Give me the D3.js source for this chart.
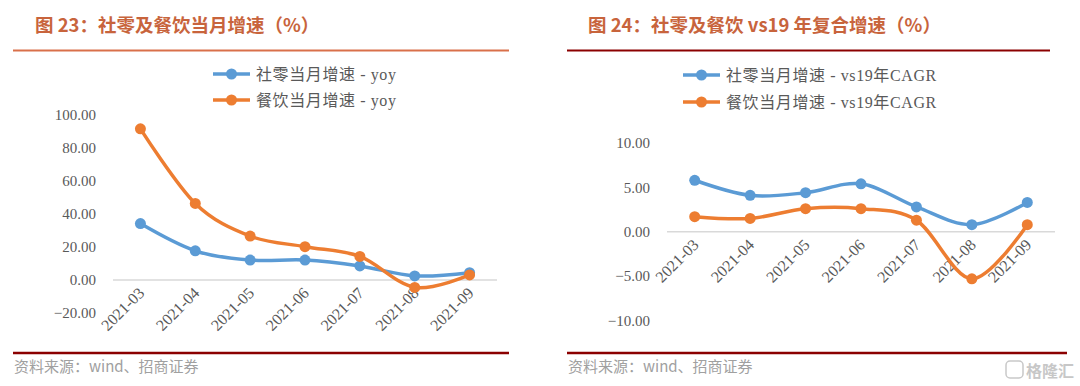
<!DOCTYPE html>
<html>
<head>
<meta charset="utf-8">
<script src="https://cdn.jsdelivr.net/npm/d3@7"></script>
<style>
    body { margin: 0; background: #fff; }
    svg { display: block; }
    .tick-label { font-family: "Liberation Serif", "Noto Sans CJK SC", serif; font-size: 15px; fill: #595959; }
    .month-label { font-family: "Liberation Serif", serif; font-size: 16px; fill: #595959; }
    .legend-label { font-family: "Liberation Serif", "Noto Sans CJK SC", serif; font-size: 16px; fill: #595959; letter-spacing: 0.6px; }
    .panel-title { font-family: "Noto Sans CJK SC", sans-serif; font-size: 18.5px; font-weight: bold; fill: #c8643c; }
    .source-label { font-family: "Noto Sans CJK SC", sans-serif; font-size: 15px; fill: #a0a0a0; }
</style>
</head>
<body>
<svg id="chart" width="1080" height="386"></svg>
<script>
// months shared by both panels
const months = ['2021-03', '2021-04', '2021-05', '2021-06', '2021-07', '2021-08', '2021-09'];

// 图 23: monthly yoy growth
const retailYoy = [34.2, 17.7, 12.1, 12.1, 8.5, 2.5, 4.4];
const cateringYoy = [91.6, 46.4, 26.6, 20.2, 14.3, -4.5, 3.1];
const leftTicks = [-20, 0, 20, 40, 60, 80, 100];

// 图 24: CAGR vs 2019
const retailCagr = [5.8, 4.1, 4.4, 5.4, 2.8, 0.8, 3.3];
const cateringCagr = [1.7, 1.5, 2.6, 2.6, 1.3, -5.3, 0.8];
const rightTicks = [-10, -5, 0, 5, 10];

const blue = '#5b9bd5';
const orange = '#ed7d31';

function LinePanel() {
    let xRange = [0, 100];
    let yRange = [300, 100];
    let yDomain = [0, 1];
    let ticks = [];
    let series = [];
    let legendX = 0;
    let legendY = [74, 101];

    function chart(selection) {
        selection.each(function() {
            let g = d3.select(this);

            let xScale = d3.scaleBand().domain(months).range(xRange);
            let yScale = d3.scaleLinear().domain(yDomain).range(yRange);
            let cx = (m) => xScale(m) + xScale.bandwidth() / 2;

            // zero line
            g.append('line')
                .attr('x1', xRange[0]).attr('x2', xRange[1])
                .attr('y1', yScale(0)).attr('y2', yScale(0))
                .attr('stroke', '#d9d9d9')
                .attr('stroke-width', 1.5);

            // y tick labels, no axis line
            let yAxis = d3.axisLeft(yScale)
                .tickValues(ticks)
                .tickSize(0)
                .tickFormat(d3.format('.2f'));
            let ya = g.append('g')
                .attr('transform', `translate(${xRange[0] - 14},0)`)
                .call(yAxis);
            ya.select('.domain').remove();
            ya.selectAll('text').attr('class', 'tick-label').attr('fill', null);

            // rotated month labels
            g.selectAll('.month')
                .data(months)
                .enter()
                .append('text')
                .attr('class', 'month-label')
                .attr('text-anchor', 'end')
                .attr('transform', (d) => `translate(${cx(d) + 5},${yScale(0) + 14}) rotate(-45)`)
                .text((d) => d);

            let line = d3.line()
                .x((d, i) => cx(months[i]))
                .y((d) => yScale(d))
                .curve(d3.curveCatmullRom.alpha(0));

            series.forEach((s) => {
                g.append('path')
                    .attr('d', line(s.values))
                    .attr('fill', 'none')
                    .attr('stroke', s.color)
                    .attr('stroke-width', 3.5)
                    .attr('stroke-linejoin', 'round');

                g.selectAll(null)
                    .data(s.values)
                    .enter()
                    .append('circle')
                    .attr('cx', (d, i) => cx(months[i]))
                    .attr('cy', (d) => yScale(d))
                    .attr('r', 5.5)
                    .attr('fill', s.color);
            });

            // legend
            series.forEach((s, i) => {
                let ly = legendY[i];
                g.append('line')
                    .attr('x1', legendX).attr('x2', legendX + 37)
                    .attr('y1', ly).attr('y2', ly)
                    .attr('stroke', s.color)
                    .attr('stroke-width', 3.5);
                g.append('circle')
                    .attr('cx', legendX + 18.5).attr('cy', ly)
                    .attr('r', 5.5)
                    .attr('fill', s.color);
                g.append('text')
                    .attr('class', 'legend-label')
                    .attr('x', legendX + 43)
                    .attr('y', ly + 5.5)
                    .text(s.name);
            });
        });
    }

    chart.xRange = function(_) { if (!arguments.length) return xRange; xRange = _; return chart; };
    chart.yRange = function(_) { if (!arguments.length) return yRange; yRange = _; return chart; };
    chart.yDomain = function(_) { if (!arguments.length) return yDomain; yDomain = _; return chart; };
    chart.ticks = function(_) { if (!arguments.length) return ticks; ticks = _; return chart; };
    chart.series = function(_) { if (!arguments.length) return series; series = _; return chart; };
    chart.legendX = function(_) { if (!arguments.length) return legendX; legendX = _; return chart; };
    chart.legendY = function(_) { if (!arguments.length) return legendY; legendY = _; return chart; };

    return chart;
}

let svg = d3.select('#chart');
svg.append('rect').attr('width', 1080).attr('height', 386).attr('fill', '#fff');

function frame(x0, x1, title, titleX, ruleColor) {
    svg.append('text')
        .attr('class', 'panel-title')
        .attr('x', titleX).attr('y', 32)
        .text(title);
    svg.append('line')
        .attr('x1', x0).attr('x2', x1)
        .attr('y1', 50.5).attr('y2', 50.5)
        .attr('stroke', ruleColor)
        .attr('stroke-width', 2);
    svg.append('line')
        .attr('x1', x0).attr('x2', x1 + (x1 < 540 ? 0 : 17))
        .attr('y1', 353).attr('y2', 353)
        .attr('stroke', '#8b0000')
        .attr('stroke-width', 2.5);
    svg.append('text')
        .attr('class', 'source-label')
        .attr('x', x0 + 1).attr('y', 372)
        .text('资料来源：wind、招商证券');
}

frame(13, 509, '图 23：社零及餐饮当月增速（%）', 35, '#d9704a');
frame(567, 1050, '图 24：社零及餐饮 vs19 年复合增速（%）', 588, '#8b0000');

let leftPanel = LinePanel()
    .xRange([113, 497])
    .yRange([313, 115])
    .yDomain([-20, 100])
    .ticks(leftTicks)
    .legendX(213)
    .legendY([74, 100])
    .series([
        {name: '社零当月增速 - yoy', values: retailYoy, color: blue},
        {name: '餐饮当月增速 - yoy', values: cateringYoy, color: orange}
    ]);

let rightPanel = LinePanel()
    .xRange([667, 1055])
    .yRange([320.5, 143])
    .yDomain([-10, 10])
    .ticks(rightTicks)
    .legendX(683)
    .legendY([75, 102])
    .series([
        {name: '社零当月增速 - vs19年CAGR', values: retailCagr, color: blue},
        {name: '餐饮当月增速 - vs19年CAGR', values: cateringCagr, color: orange}
    ]);

svg.append('g').call(leftPanel);
svg.append('g').call(rightPanel);

// watermark in the bottom-right corner
let wm = svg.append('g').attr('opacity', 0.55);
wm.append('rect')
    .attr('x', 1006).attr('y', 361).attr('width', 17).attr('height', 17)
    .attr('rx', 4)
    .attr('fill', 'none').attr('stroke', '#9a9a9a').attr('stroke-width', 1.5);
wm.append('text')
    .attr('x', 1026).attr('y', 377)
    .attr('font-family', 'Noto Sans CJK SC')
    .attr('font-size', 16)
    .attr('font-weight', 'bold')
    .attr('fill', '#9a9a9a')
    .text('格隆汇');
</script>
</body>
</html>
